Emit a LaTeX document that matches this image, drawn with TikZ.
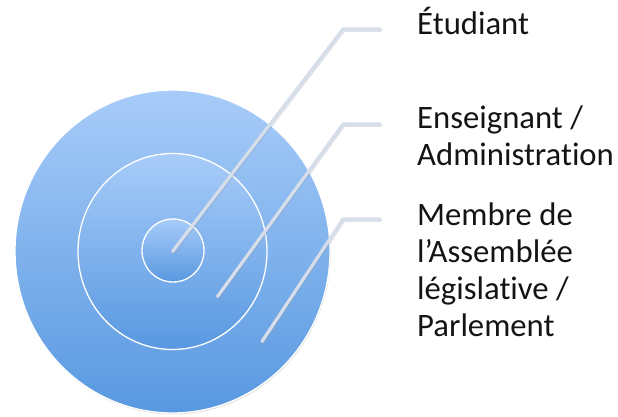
\documentclass[tikz,border=0pt]{standalone}
\usepackage{fontspec}
\setmainfont{Carlito}[Ligatures={NoCommon}]
\usetikzlibrary{shapes.geometric,shadows}
\definecolor{ctop}{HTML}{A8CCF9}
\definecolor{cbot}{HTML}{5898E0}
\definecolor{leadcol}{HTML}{D6DEEA}
\definecolor{leadshadowcol}{HTML}{8E9AAE}
\tikzset{
  ring/.style={ellipse, inner sep=0pt, draw=white, line width=1.3pt, top color=ctop, bottom color=cbot},
  leader/.style={draw=leadcol, line width=3.2pt, line cap=round, line join=round},
  leadershade/.style={draw=leadshadowcol, opacity=0.28, line width=3.4pt, line cap=round, line join=round},
  labeltext/.style={anchor=base west, align=left, inner sep=0pt, font=\fontsize{32.7}{37}\selectfont, text=black!92}
}
\begin{document}
\begin{tikzpicture}[x=1pt,y=-1pt]
\useasboundingbox (0,0) rectangle (618,417);
\fill[white] (0,0) rectangle (618,417);
\node[ring, minimum width=315pt, minimum height=323pt, drop shadow={opacity=0.22, shadow xshift=0.8pt, shadow yshift=-1.5pt}] (outer) at (172.5,251.5) {};
\node[ring, minimum width=189pt, minimum height=196pt] (middle) at (172.5,251.5) {};
\node[ring, minimum width=62pt, minimum height=63pt] (inner) at (173,250.5) {};
\coordinate (a1) at (172.5,251.5); \coordinate (b1) at (343,29);  \coordinate (c1) at (380,29);
\coordinate (a2) at (217.5,296.5); \coordinate (b2) at (343,124); \coordinate (c2) at (380,124);
\coordinate (a3) at (262,341.5);   \coordinate (b3) at (343,219); \coordinate (c3) at (380,219);
\foreach \i in {1,2,3}{
  \draw[leadershade] ([shift={(0.9,1.2)}]a\i) -- ([shift={(0.9,1.2)}]b\i) -- ([shift={(0.9,1.2)}]c\i);
  \draw[leader] (a\i) -- (b\i) -- (c\i);
}
\node[labeltext] (l1) at (417,35) {Étudiant};
\node[labeltext] (l2) at (417,165) {Enseignant /\\Administration};
\node[labeltext] (l3) at (417,336) {Membre de\\l’Assemblée\\législative /\\Parlement};
\end{tikzpicture}
\end{document}
